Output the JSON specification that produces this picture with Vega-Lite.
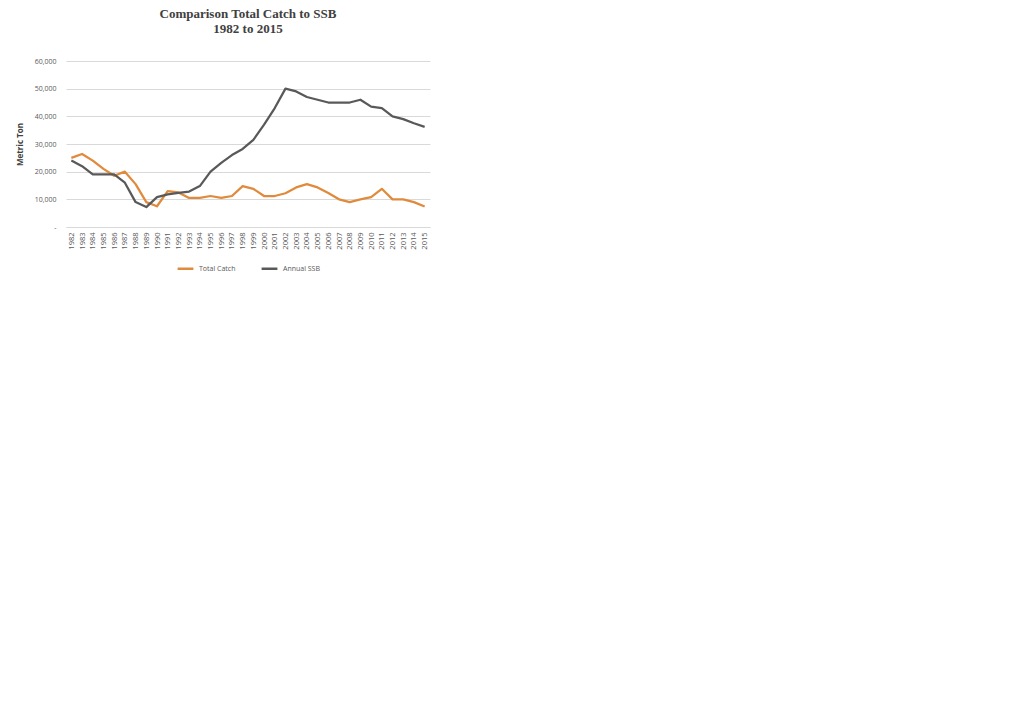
{
  "$schema": "https://vega.github.io/schema/vega-lite/v6.json",
  "width": 364,
  "height": 166,
  "padding": {"left": 16, "top": 8, "right": 5, "bottom": 5},
  "background": "white",
  "title": {
    "text": ["Comparison Total Catch to SSB", "1982 to 2015"],
    "font": "Liberation Serif",
    "fontSize": 13,
    "fontWeight": "bold",
    "color": "#404040",
    "anchor": "middle",
    "lineHeight": 15,
    "offset": 21
  },
  "datasets": {
    "rows": [
      {"year": "1982", "series": "Total Catch", "value": 25000},
      {"year": "1983", "series": "Total Catch", "value": 26400},
      {"year": "1984", "series": "Total Catch", "value": 24000},
      {"year": "1985", "series": "Total Catch", "value": 21000},
      {"year": "1986", "series": "Total Catch", "value": 18500},
      {"year": "1987", "series": "Total Catch", "value": 20000},
      {"year": "1988", "series": "Total Catch", "value": 15500},
      {"year": "1989", "series": "Total Catch", "value": 9000},
      {"year": "1990", "series": "Total Catch", "value": 7500},
      {"year": "1991", "series": "Total Catch", "value": 13000},
      {"year": "1992", "series": "Total Catch", "value": 12500},
      {"year": "1993", "series": "Total Catch", "value": 10500},
      {"year": "1994", "series": "Total Catch", "value": 10500},
      {"year": "1995", "series": "Total Catch", "value": 11200},
      {"year": "1996", "series": "Total Catch", "value": 10500},
      {"year": "1997", "series": "Total Catch", "value": 11200},
      {"year": "1998", "series": "Total Catch", "value": 14800},
      {"year": "1999", "series": "Total Catch", "value": 13800},
      {"year": "2000", "series": "Total Catch", "value": 11200},
      {"year": "2001", "series": "Total Catch", "value": 11200},
      {"year": "2002", "series": "Total Catch", "value": 12200},
      {"year": "2003", "series": "Total Catch", "value": 14300},
      {"year": "2004", "series": "Total Catch", "value": 15500},
      {"year": "2005", "series": "Total Catch", "value": 14300},
      {"year": "2006", "series": "Total Catch", "value": 12300},
      {"year": "2007", "series": "Total Catch", "value": 10000},
      {"year": "2008", "series": "Total Catch", "value": 9000},
      {"year": "2009", "series": "Total Catch", "value": 10000},
      {"year": "2010", "series": "Total Catch", "value": 10800},
      {"year": "2011", "series": "Total Catch", "value": 13800},
      {"year": "2012", "series": "Total Catch", "value": 10000},
      {"year": "2013", "series": "Total Catch", "value": 10000},
      {"year": "2014", "series": "Total Catch", "value": 9000},
      {"year": "2015", "series": "Total Catch", "value": 7400},
      {"year": "1982", "series": "Annual SSB", "value": 24000},
      {"year": "1983", "series": "Annual SSB", "value": 22000},
      {"year": "1984", "series": "Annual SSB", "value": 19000},
      {"year": "1985", "series": "Annual SSB", "value": 19000},
      {"year": "1986", "series": "Annual SSB", "value": 19000},
      {"year": "1987", "series": "Annual SSB", "value": 16000},
      {"year": "1988", "series": "Annual SSB", "value": 9000},
      {"year": "1989", "series": "Annual SSB", "value": 7200},
      {"year": "1990", "series": "Annual SSB", "value": 10800},
      {"year": "1991", "series": "Annual SSB", "value": 11800},
      {"year": "1992", "series": "Annual SSB", "value": 12300},
      {"year": "1993", "series": "Annual SSB", "value": 12800},
      {"year": "1994", "series": "Annual SSB", "value": 14800},
      {"year": "1995", "series": "Annual SSB", "value": 20000},
      {"year": "1996", "series": "Annual SSB", "value": 23200},
      {"year": "1997", "series": "Annual SSB", "value": 26000},
      {"year": "1998", "series": "Annual SSB", "value": 28200},
      {"year": "1999", "series": "Annual SSB", "value": 31500},
      {"year": "2000", "series": "Annual SSB", "value": 37000},
      {"year": "2001", "series": "Annual SSB", "value": 43000},
      {"year": "2002", "series": "Annual SSB", "value": 50000},
      {"year": "2003", "series": "Annual SSB", "value": 49000},
      {"year": "2004", "series": "Annual SSB", "value": 47000},
      {"year": "2005", "series": "Annual SSB", "value": 46000},
      {"year": "2006", "series": "Annual SSB", "value": 45000},
      {"year": "2007", "series": "Annual SSB", "value": 45000},
      {"year": "2008", "series": "Annual SSB", "value": 45000},
      {"year": "2009", "series": "Annual SSB", "value": 46000},
      {"year": "2010", "series": "Annual SSB", "value": 43500},
      {"year": "2011", "series": "Annual SSB", "value": 43000},
      {"year": "2012", "series": "Annual SSB", "value": 40000},
      {"year": "2013", "series": "Annual SSB", "value": 39000},
      {"year": "2014", "series": "Annual SSB", "value": 37500},
      {"year": "2015", "series": "Annual SSB", "value": 36200}
    ]
  },
  "data": {"name": "rows"},
  "mark": {"type": "line", "strokeWidth": 2.25, "strokeJoin": "round"},
  "encoding": {
    "x": {
      "field": "year",
      "type": "ordinal",
      "scale": {"type": "point", "padding": 0.5},
      "axis": {
        "title": null,
        "labelAngle": -90,
        "labelFont": "Open Sans",
        "labelFontSize": 7.5,
        "labelColor": "#595959",
        "ticks": false,
        "domainColor": "#d9d9d9",
        "labelPadding": 5
      }
    },
    "y": {
      "field": "value",
      "type": "quantitative",
      "scale": {"domain": [0, 60000]},
      "axis": {
        "title": "Metric Ton",
        "titleFont": "Open Sans",
        "titleFontSize": 8,
        "titleFontWeight": "bold",
        "titleColor": "#404040",
        "titlePadding": 10,
        "values": [0, 10000, 20000, 30000, 40000, 50000, 60000],
        "labelExpr": "datum.value === 0 ? '-' : datum.label",
        "labelFont": "Open Sans",
        "labelFontSize": 7,
        "labelColor": "#595959",
        "ticks": false,
        "domain": false,
        "labelPadding": 10,
        "gridColor": "#d9d9d9"
      }
    },
    "color": {
      "field": "series",
      "type": "nominal",
      "scale": {"domain": ["Total Catch", "Annual SSB"], "range": ["#E08A3C", "#595959"]},
      "legend": {
        "title": null,
        "orient": "bottom",
        "direction": "horizontal",
        "symbolType": "stroke",
        "symbolStrokeWidth": 2.5,
        "symbolSize": 250,
        "labelFont": "Open Sans",
        "labelFontSize": 7,
        "labelColor": "#595959",
        "columnPadding": 20,
        "offset": 9
      }
    }
  },
  "config": {
    "view": {"stroke": null},
    "legend": {"layout": {"bottom": {"anchor": "middle"}}}
  }
}
